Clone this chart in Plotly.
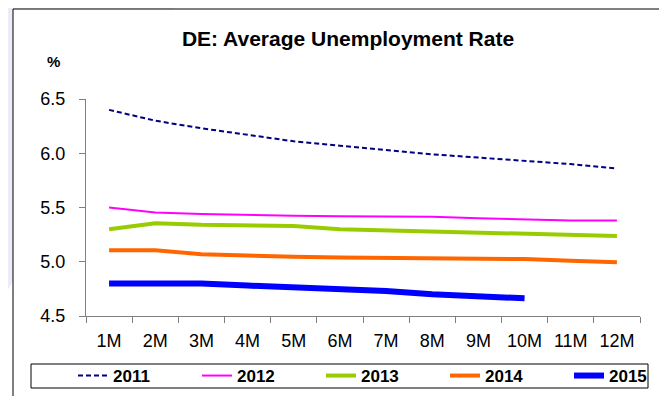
import plotly.graph_objects as go

# ---------------------------------------------------------------------------
# Data
# ---------------------------------------------------------------------------
months = ["1M", "2M", "3M", "4M", "5M", "6M", "7M", "8M", "9M", "10M", "11M", "12M"]

rate_2011 = [6.40, 6.30, 6.23, 6.17, 6.11, 6.07, 6.03, 5.99, 5.96, 5.93, 5.90, 5.86]
rate_2012 = [5.50, 5.455, 5.44, 5.43, 5.425, 5.42, 5.42, 5.415, 5.40, 5.39, 5.38, 5.38]
rate_2013 = [5.30, 5.355, 5.34, 5.335, 5.33, 5.30, 5.29, 5.28, 5.27, 5.26, 5.25, 5.237]
rate_2014 = [5.105, 5.105, 5.07, 5.055, 5.045, 5.04, 5.035, 5.03, 5.03, 5.025, 5.01, 4.995]
rate_2015 = [4.80, 4.80, 4.80, 4.78, 4.765, 4.755, 4.73, 4.70, 4.68, 4.663]

y_ticks = [4.5, 5.0, 5.5, 6.0, 6.5]

# ---------------------------------------------------------------------------
# Layout geometry (target-picture pixels; page adds an 8px body margin)
# ---------------------------------------------------------------------------
W, H = 667, 396
OFF = 8
PLOT_L, PLOT_R, PLOT_T, PLOT_B = 86, 640, 99, 316   # plot area in picture px
L, T = PLOT_L - OFF, PLOT_T - OFF
R, B = W - (PLOT_R - OFF), H - (PLOT_B - OFF)
PW, PH = PLOT_R - PLOT_L, PLOT_B - PLOT_T

FONT = "Liberation Sans, Arial, sans-serif"
AXIS_GREY = "#808080"


def px_x(px):
    return (px - PLOT_L) / PW


def px_y(py):
    return (PLOT_B - py) / PH


series = [
    ("2011", rate_2011, dict(color="#000080", width=2, dash="5px,3px")),
    ("2012", rate_2012, dict(color="#FF00FF", width=2)),
    ("2013", rate_2013, dict(color="#99CC00", width=4)),
    ("2014", rate_2014, dict(color="#FF6600", width=4)),
    ("2015", rate_2015, dict(color="#0000FF", width=6)),
]

fig = go.Figure()
for name, vals, line in series:
    fig.add_trace(
        go.Scatter(
            x=months[: len(vals)],
            y=vals,
            mode="lines",
            name=name,
            line=line,
        )
    )

# faint slide decoration, chart frame and legend frame
fig.add_shape(
    type="path",
    xref="paper", yref="paper",
    path=f"M {px_x(-10)},{px_y(-10)} L {px_x(185)},{px_y(-10)} L {px_x(-10)},{px_y(320)} Z",
    fillcolor="#ECEBF6",
    line=dict(width=0),
    layer="below",
)
fig.add_shape(
    type="rect",
    xref="paper", yref="paper",
    x0=px_x(13), x1=px_x(663), y0=px_y(9), y1=px_y(430),
    fillcolor="white",
    line=dict(color="#000000", width=1),
    layer="below",
)
fig.add_shape(
    type="rect",
    xref="paper", yref="paper",
    x0=px_x(31), x1=px_x(648), y0=px_y(364), y1=px_y(388),
    fillcolor="rgba(0,0,0,0)",
    line=dict(color="#000000", width=1),
    layer="above",
)

fig.add_annotation(
    text="<b>%</b>",
    xref="paper", yref="paper",
    x=px_x(53), y=px_y(61),
    xanchor="center", yanchor="middle",
    showarrow=False,
    font=dict(family=FONT, size=15, color="#000000"),
)

fig.update_layout(
    width=W,
    height=H,
    margin=dict(l=L, r=R, t=T, b=B, autoexpand=False),
    paper_bgcolor="white",
    plot_bgcolor="white",
    font=dict(family=FONT, color="#000000"),
    title=dict(
        text="<b>DE: Average Unemployment Rate</b>",
        x=px_x(348), xref="paper", xanchor="center",
        y=1 - (39 - OFF) / H, yanchor="middle",
        font=dict(family=FONT, size=21, color="#000000"),
    ),
    xaxis=dict(
        type="category",
        range=[-0.5, len(months) - 0.5],
        tickson="boundaries",
        ticks="outside",
        ticklen=6,
        tickcolor=AXIS_GREY,
        showline=True,
        linecolor=AXIS_GREY,
        linewidth=1,
        showgrid=False,
        tickfont=dict(family=FONT, size=18, color="#000000"),
        ticklabelstandoff=8,
        fixedrange=True,
    ),
    yaxis=dict(
        range=[4.5, 6.5],
        tickvals=y_ticks,
        tickformat=".1f",
        ticks="outside",
        ticklen=6,
        tickcolor=AXIS_GREY,
        showline=True,
        linecolor=AXIS_GREY,
        linewidth=1,
        showgrid=False,
        zeroline=False,
        tickfont=dict(family=FONT, size=18, color="#000000"),
        ticklabelstandoff=10,
        fixedrange=True,
    ),
    legend=dict(
        orientation="h",
        x=px_x(73), xanchor="left",
        y=px_y(376), yanchor="middle",
        bgcolor="rgba(0,0,0,0)",
        borderwidth=0,
        entrywidth=79,
        entrywidthmode="pixels",
        font=dict(family=FONT, size=17, color="#000000", weight="bold"),
        tracegroupgap=0,
    ),
    showlegend=True,
)

fig.write_html("out.html")
